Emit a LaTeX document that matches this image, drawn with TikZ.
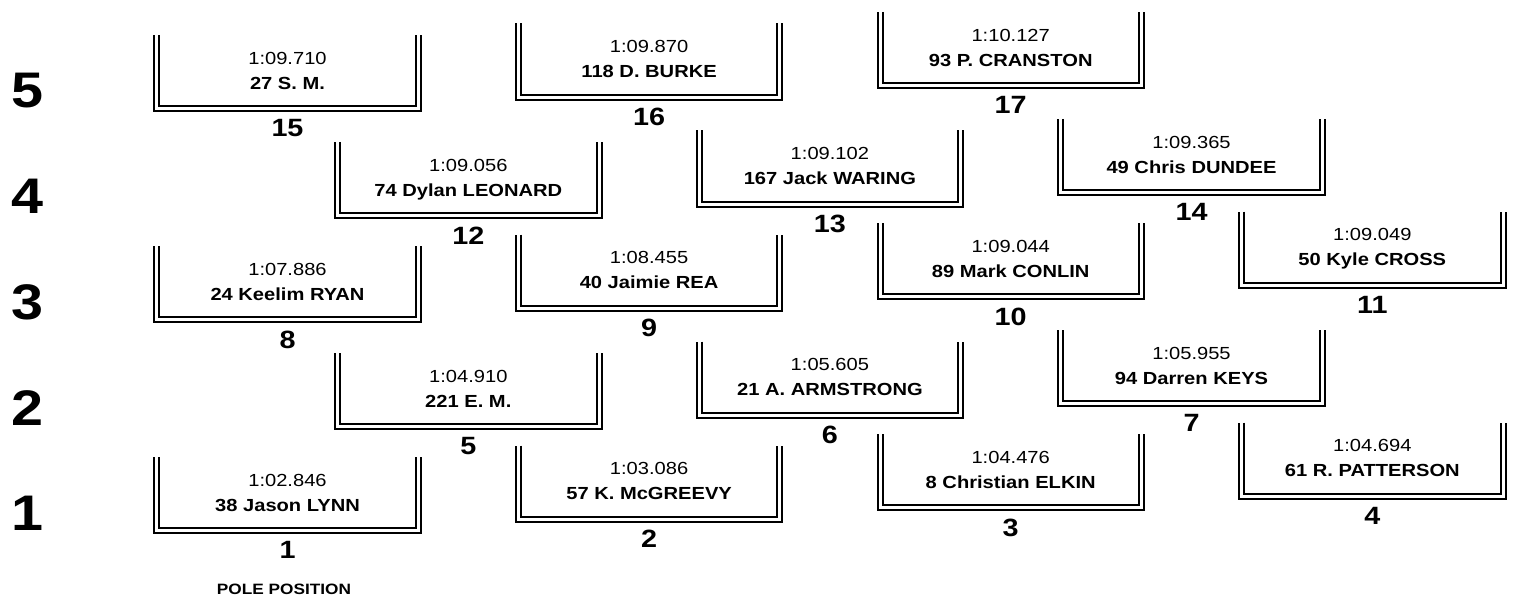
\documentclass[tikz,border=0pt]{standalone}
\usepackage{fontspec}
\setmainfont{Liberation Sans}[FakeStretch=1.15]

\begin{document}
\begin{tikzpicture}[
    x=1bp, y=-1bp,
    slot/.style={
        anchor=north,
        minimum width=261bp,
        inner sep=0pt,
        text height=54.2bp,
        text depth=19.3bp,
        align=center,
        label distance=0pt,
        font=\fontsize{17.5bp}{25bp}\selectfont
    },
    rail/.style={double, double distance=3bp, line width=2bp},
    posnum/.style={
        font=\fontsize{25bp}{30bp}\selectfont\bfseries,
        inner sep=0pt,
        yshift=-10.5bp
    },
    rownum/.style={font=\fontsize{50bp}{60bp}\selectfont\bfseries, inner sep=0pt},
    pole/.style={font=\fontsize{15bp}{18bp}\selectfont\bfseries, inner sep=0pt}
]
\useasboundingbox (0,0) rectangle (1519,608);

% ---------------- Row numbers ----------------
\node[rownum] (row5) at (27, 90.5)  {5};
\node[rownum] (row4) at (27, 196.3) {4};
\node[rownum] (row3) at (27, 302)   {3};
\node[rownum] (row2) at (27, 407.8) {2};
\node[rownum] (row1) at (27, 513.5) {1};

% ---------------- Grid slots ----------------
\node[slot, label={[posnum]below:1}]  (p1)  at (287.5, 457)   {1:02.846\\\textbf{38 Jason LYNN}};
\node[slot, label={[posnum]below:2}]  (p2)  at (649.1, 445.5) {1:03.086\\\textbf{57 K. McGREEVY}};
\node[slot, label={[posnum]below:3}]  (p3)  at (1010.7, 434)  {1:04.476\\\textbf{8 Christian ELKIN}};
\node[slot, label={[posnum]below:4}]  (p4)  at (1372.3, 422.5) {1:04.694\\\textbf{61 R. PATTERSON}};

\node[slot, label={[posnum]below:5}]  (p5)  at (468.3, 353)   {1:04.910\\\textbf{221 E. M.}};
\node[slot, label={[posnum]below:6}]  (p6)  at (829.9, 341.5) {1:05.605\\\textbf{21 A. ARMSTRONG}};
\node[slot, label={[posnum]below:7}]  (p7)  at (1191.5, 330)  {1:05.955\\\textbf{94 Darren KEYS}};

\node[slot, label={[posnum]below:8}]  (p8)  at (287.5, 246)   {1:07.886\\\textbf{24 Keelim RYAN}};
\node[slot, label={[posnum]below:9}]  (p9)  at (649.1, 234.5) {1:08.455\\\textbf{40 Jaimie REA}};
\node[slot, label={[posnum]below:10}] (p10) at (1010.7, 223)  {1:09.044\\\textbf{89 Mark CONLIN}};
\node[slot, label={[posnum]below:11}] (p11) at (1372.3, 211.5) {1:09.049\\\textbf{50 Kyle CROSS}};

\node[slot, label={[posnum]below:12}] (p12) at (468.3, 142)   {1:09.056\\\textbf{74 Dylan LEONARD}};
\node[slot, label={[posnum]below:13}] (p13) at (829.9, 130.5) {1:09.102\\\textbf{167 Jack WARING}};
\node[slot, label={[posnum]below:14}] (p14) at (1191.5, 119)  {1:09.365\\\textbf{49 Chris DUNDEE}};

\node[slot, label={[posnum]below:15}] (p15) at (287.5, 35)    {1:09.710\\\textbf{27 S. M.}};
\node[slot, label={[posnum]below:16}] (p16) at (649.1, 23.5)  {1:09.870\\\textbf{118 D. BURKE}};
\node[slot, label={[posnum]below:17}] (p17) at (1010.7, 12)   {1:10.127\\\textbf{93 P. CRANSTON}};

% ---------------- Slot rails ----------------
\foreach \i in {1,...,17}
    \draw[rail] (p\i.north west) |- (p\i.south east) -- (p\i.north east);

\node[pole] (pole) at (284, 589.5) {POLE POSITION};

\end{tikzpicture}
\end{document}
